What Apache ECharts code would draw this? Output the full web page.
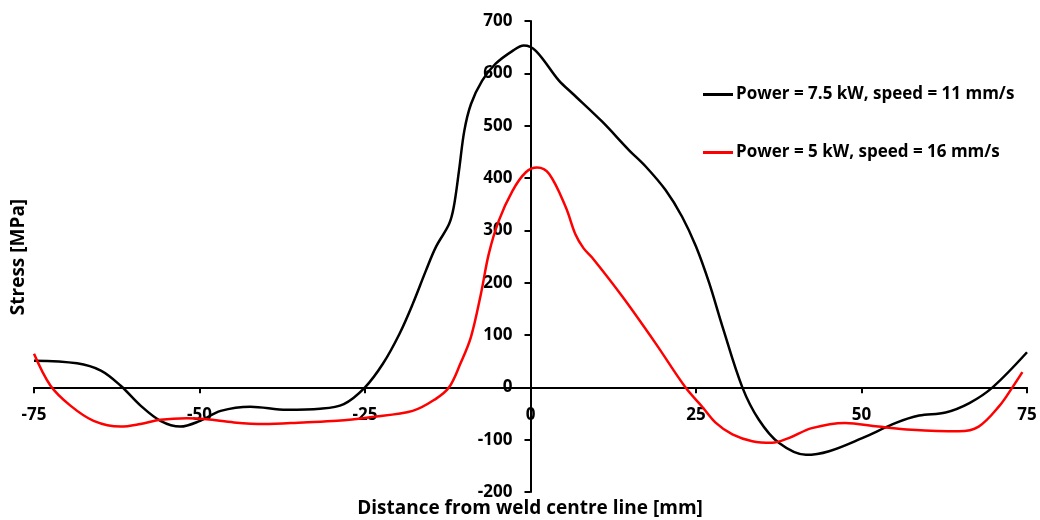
<!DOCTYPE html>
<html>
<head>
<meta charset="utf-8">
<script src="https://cdn.jsdelivr.net/npm/echarts@6/dist/echarts.min.js"></script>
<style>html,body{margin:0;padding:0;background:#fff}#c{width:1040px;height:520px}</style>
</head>
<body>
<div id="c"></div>
<script>
const blackName = 'Power = 7.5 kW, speed = 11 mm/s';
const redName = 'Power = 5 kW, speed = 16 mm/s';
const blackX = [-75, -68.5, -64.9, -61.9, -58.9, -55.9, -52.9, -49.9, -46.8, -42.3, -36.8, -31.8, -28.2, -25.0, -22.3, -19.8, -17.8, -15.8, -14.3, -12.3, -11.6, -10.8, -10.0, -9.0, -7.3, -5.3, -2.7, -1.0, 0.8, 4.3, 6.3, 10.8, 14.9, 17.4, 20.4, 22.9, 25.0, 27.0, 29.0, 32.0, 34.5, 37.5, 41.6, 45.1, 50.1, 55.2, 58.7, 62.7, 66.3, 69.8, 75];
const blackY = [51, 46, 32, 3, -35, -64, -75, -64, -45, -37, -43, -41, -32, 0, 45, 102, 159, 223, 268, 312, 344, 414, 490, 541, 586, 618, 643, 653, 643, 586, 562, 508, 453, 422, 377, 326, 269, 199, 116, 0, -62, -106, -129, -122, -97, -68, -54, -48, -30, 0, 67];
const redX = [-75, -72.5, -69.5, -66, -61.9, -58.9, -55.9, -51.9, -48.9, -44.8, -40.3, -34.3, -29.2, -24.2, -17.8, -14.3, -12.3, -10.6, -9.0, -7.5, -6.3, -4.8, -2.7, -0.7, 1.0, 2.8, 5.3, 6.8, 8.0, 9.3, 13.9, 18.9, 23.4, 26.0, 28.0, 30.5, 33.5, 36.5, 39.0, 42.5, 47.5, 52.5, 57.6, 64.7, 67.7, 70.8, 72.8, 74.3];
const redY = [64, 3, -35, -64, -75, -70, -62, -59, -61, -67, -70, -67, -64, -57, -45, -22, 0, 45, 96, 178, 255, 318, 376, 411, 420, 408, 345, 292, 266, 248, 173, 84, 0, -38, -68, -90, -103, -106, -97, -78, -68, -75, -81, -84, -75, -36, 0, 29];
const xTitle = 'Distance from weld centre line [mm]';
const yTitle = 'Stress [MPa]';

const FONT = '"Open Sans", Lato, sans-serif';
const GRID = {left: 34, right: 13, top: 21, bottom: 28};
const W = 1040, H = 520;
const chart = echarts.init(document.getElementById('c'), null, {renderer: 'canvas', width: W, height: H});
const zip = (xs, ys) => xs.map((x, i) => [x, ys[i]]);
const X_MIN = -75, X_MAX = 75, Y_MIN = -200, Y_MAX = 700;
// axes cross at zero: offset each axis inward from the grid edge to the zero line
const plotW = W - GRID.left - GRID.right, plotH = H - GRID.top - GRID.bottom;
const xAxisOffset = -plotH * (0 - Y_MIN) / (Y_MAX - Y_MIN);
const yAxisOffset = -plotW * (0 - X_MIN) / (X_MAX - X_MIN);
chart.setOption({
  animation: false,
  backgroundColor: '#fff',
  grid: Object.assign({containLabel: false}, GRID),
  xAxis: {
    type: 'value', min: X_MIN, max: X_MAX, interval: 25, position: 'bottom', offset: xAxisOffset,
    axisLine: {onZero: false, lineStyle: {color: '#000', width: 2}},
    axisTick: {show: true, inside: false, length: 6, lineStyle: {color: '#000', width: 2}},
    axisLabel: {color: '#000', fontFamily: FONT, fontWeight: 'bold', fontSize: 17, margin: 19},
    splitLine: {show: false}
  },
  yAxis: {
    type: 'value', min: Y_MIN, max: Y_MAX, interval: 100, position: 'left', offset: yAxisOffset,
    axisLine: {onZero: false, lineStyle: {color: '#000', width: 2}},
    axisTick: {show: true, inside: false, length: 6, lineStyle: {color: '#000', width: 2}},
    axisLabel: {color: '#000', fontFamily: FONT, fontWeight: 'bold', fontSize: 17, margin: 18},
    splitLine: {show: false}
  },
  legend: {
    orient: 'vertical', left: 698, top: 81, itemGap: 41,
    icon: 'rect', itemWidth: 30, itemHeight: 3,
    textStyle: {color: '#000', fontFamily: FONT, fontWeight: 'bold', fontSize: 17, padding: [0, 0, 0, -2]},
    data: [blackName, redName]
  },
  graphic: [
    {type: 'text', x: 530, y: 509, style: {text: xTitle, font: 'bold 19px ' + FONT, fill: '#000', align: 'center', verticalAlign: 'middle'}},
    {type: 'text', x: 19, y: 257, rotation: Math.PI / 2, style: {text: yTitle, font: 'bold 19px ' + FONT, fill: '#000', align: 'center', verticalAlign: 'middle'}}
  ],
  series: [
    {name: blackName, type: 'line', data: zip(blackX, blackY), smooth: 0.35, showSymbol: false, symbol: 'none', lineStyle: {color: '#000', width: 2.5}, itemStyle: {color: '#000'}},
    {name: redName, type: 'line', data: zip(redX, redY), smooth: 0.35, showSymbol: false, symbol: 'none', lineStyle: {color: '#ff0000', width: 2.5}, itemStyle: {color: '#ff0000'}}
  ]
});
</script>
</body>
</html>
